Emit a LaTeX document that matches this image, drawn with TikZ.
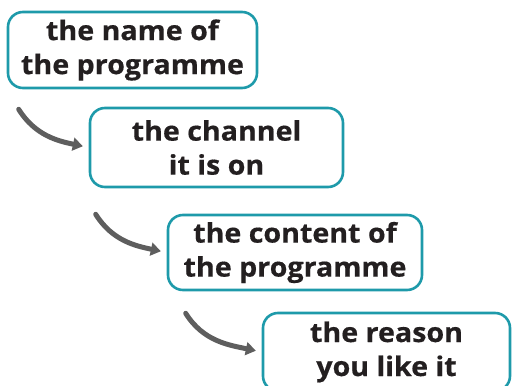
\documentclass[tikz,border=0pt]{standalone}
\usepackage{fontspec}
\setmainfont{Open Sans}[FakeStretch=1.06, BoldFeatures={FakeBold=0.5}]
\usepackage{xcolor}
\usetikzlibrary{positioning, arrows.meta, calc}

\definecolor{boxteal}{HTML}{1E9AAA}
\definecolor{arrowgrey}{HTML}{5E5E5E}
\definecolor{textdark}{HTML}{231F20}

\begin{document}
\begin{tikzpicture}[
    x=1pt, y=1pt,
    % Custom styles for the boxes and arrows
    itembox/.style={
        draw=boxteal, line width=2.6pt, rounded corners=15pt,
        align=center, text=textdark, inner sep=0pt,
        font=\fontsize{27}{34}\selectfont\bfseries
    },
    flowarrow/.style={
        arrowgrey, line width=5pt,
        -{Triangle[length=10pt, width=13pt]}, shorten >=6pt
    }
]
% fix the frame to the reference size
\useasboundingbox (0,0) rectangle (512,-386);

% ==========================================
% THE FOUR BOXES (staircase)
% ==========================================
\node[itembox, minimum width=249pt, minimum height=76pt] (name) at (132.5,-50)
    {the name of\\the programme};
\node[itembox, minimum width=253pt, minimum height=79pt] (channel) at (216.5,-147.5)
    {the channel\\it is on};
\node[itembox, minimum width=254pt, minimum height=75pt] (content) at (295,-252.5)
    {the content of\\the programme};
\node[itembox, minimum width=247pt, minimum height=78pt] (reason) at (386.5,-352)
    {the reason\\you like it};

% ==========================================
% THE CURVED ARROWS
% ==========================================
% start points just below each box
\coordinate (s1) at ($(name.south west)+(12,-20)$);
\coordinate (s2) at ($(channel.south west)+(7,-26)$);
\coordinate (s3) at ($(content.south west)+(19,-22)$);

\begin{scope}[line cap=round]
    \draw[flowarrow] (s1) to[out=-58, in=168] (channel.west);
    \draw[flowarrow] (s2) to[out=-58, in=168] (content.west);
    \draw[flowarrow] (s3) to[out=-58, in=168] (reason.west);
\end{scope}

\end{tikzpicture}
\end{document}
